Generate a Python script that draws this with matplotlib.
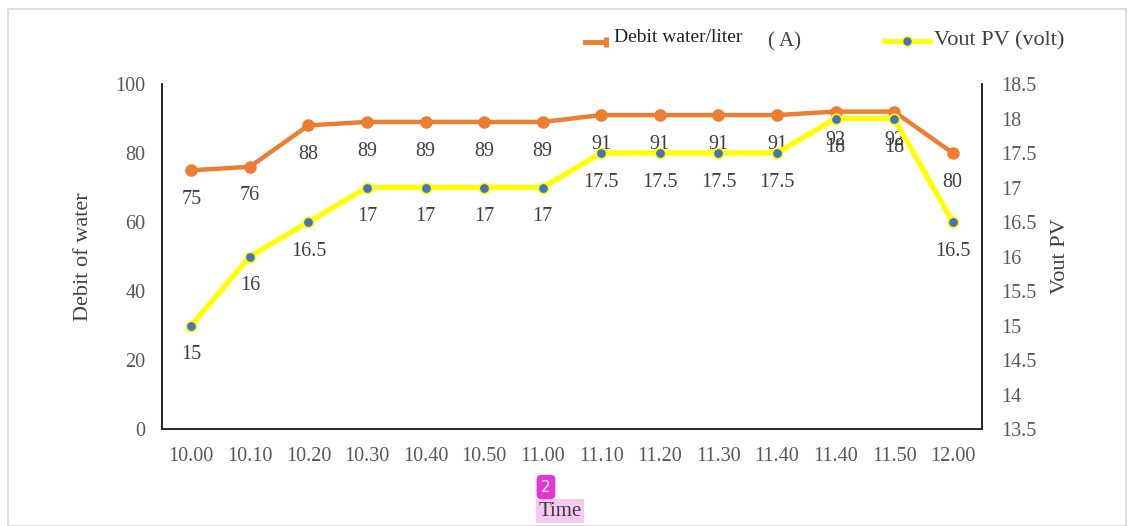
import numpy as np
import matplotlib
matplotlib.use("Agg")
import matplotlib.pyplot as plt
from matplotlib.lines import Line2D
from matplotlib.patches import Rectangle

times = ["10.00", "10.10", "10.20", "10.30", "10.40", "10.50", "11.00",
         "11.10", "11.20", "11.30", "11.40", "11.40", "11.50", "12.00"]
debit = [75, 76, 88, 89, 89, 89, 89, 91, 91, 91, 91, 92, 92, 80]
vout = [15, 16, 16.5, 17, 17, 17, 17, 17.5, 17.5, 17.5, 17.5, 18, 18, 16.5]

orange = "#ED7D31"
yellow = "#FFFF00"
blue = "#4472C4"
grey = "#595959"

plt.rcParams['font.family'] = ['Liberation Serif', 'DejaVu Serif']

fig = plt.figure(figsize=(11.34, 5.26), dpi=100)
fig.patches.append(Rectangle((8/1134, 0), 1 - 16/1134, 1 - 9/526, transform=fig.transFigure,
                             fill=False, edgecolor="#d9d9d9", lw=1.2))

ax = fig.add_axes([162/1134, 97/526, 820/1134, 345/526])
ax2 = ax.twinx()

x = np.arange(len(times))
ax.plot(x, debit, color=orange, lw=3.2, marker="o", ms=8, zorder=3)
ax2.plot(x, vout, color=yellow, lw=3.8, marker="o", ms=7.5,
         markerfacecolor=blue, markeredgecolor=yellow, markeredgewidth=1.2, zorder=3)

for xi, v in zip(x, debit):
    ax.annotate(str(v), (xi, v), xytext=(0, -21), textcoords="offset points",
                ha="center", va="center", fontsize=14.5, color="#404040")
for xi, v in zip(x, vout):
    ax2.annotate("%g" % v, (xi, v), xytext=(0, -21), textcoords="offset points",
                 ha="center", va="center", fontsize=14.5, color="#404040")

ax.set_xlim(-0.5, len(times) - 0.5)
ax.set_ylim(0, 100)
ax.set_yticks(np.arange(0, 101, 20))
ax2.set_ylim(13.5, 18.5)
ax2.set_yticks(np.arange(13.5, 18.51, 0.5))
ax2.set_yticklabels(["%g" % t for t in np.arange(13.5, 18.51, 0.5)])
ax.set_xticks(x)
ax.set_xticklabels(times)

for a in (ax, ax2):
    a.spines["top"].set_visible(False)
    for s in ("left", "right", "bottom"):
        a.spines[s].set_color("#262626")
        a.spines[s].set_linewidth(1.2)
    a.tick_params(length=0, labelsize=14.5, labelcolor=grey, pad=12)
ax.tick_params(axis="x", pad=13)
ax2.tick_params(axis="y", pad=14)

ax.set_ylabel("Debit of water", fontsize=16, color="#404040", labelpad=16)
ax2.set_ylabel("Vout PV", fontsize=16, color="#404040", rotation=90, labelpad=10)

# legend
fig.add_artist(Line2D([585/1134, 606/1134], [1 - 42/526] * 2, color=orange, lw=3.5))
fig.add_artist(Line2D([606/1134], [1 - 42/526], color=orange, marker="|", ms=7, mew=3.5))
fig.text(614/1134, 1 - 38/526, "Debit water/liter", fontsize=14, color="#222222", va="center")
fig.text(768/1134, 1 - 42/526, "( A)", fontsize=15, color="#404040", va="center")
fig.add_artist(Line2D([884/1134, 930/1134], [1 - 41/526] * 2, color=yellow, lw=3.5))
fig.add_artist(Line2D([907/1134], [1 - 41/526], color=yellow, marker="o", ms=7,
                      markerfacecolor=blue, markeredgecolor=yellow))
fig.text(934/1134, 1 - 41/526, "Vout PV (volt)", fontsize=16, color="#404040", va="center")

# x title with highlight and badge
fig.text(560/1134, 1 - 511/526, "Time", fontsize=15, color="#404040", ha="center", va="center",
         bbox=dict(boxstyle="square,pad=0.1", facecolor="#f8c8f2", edgecolor="none"))
fig.text(546/1134, 1 - 487/526, "2", fontsize=11, color="white", ha="center", va="center",
         family="DejaVu Sans",
         bbox=dict(boxstyle="round,pad=0.3", facecolor="#e535d8", edgecolor="none"))

fig.savefig("out.png", dpi=100)
